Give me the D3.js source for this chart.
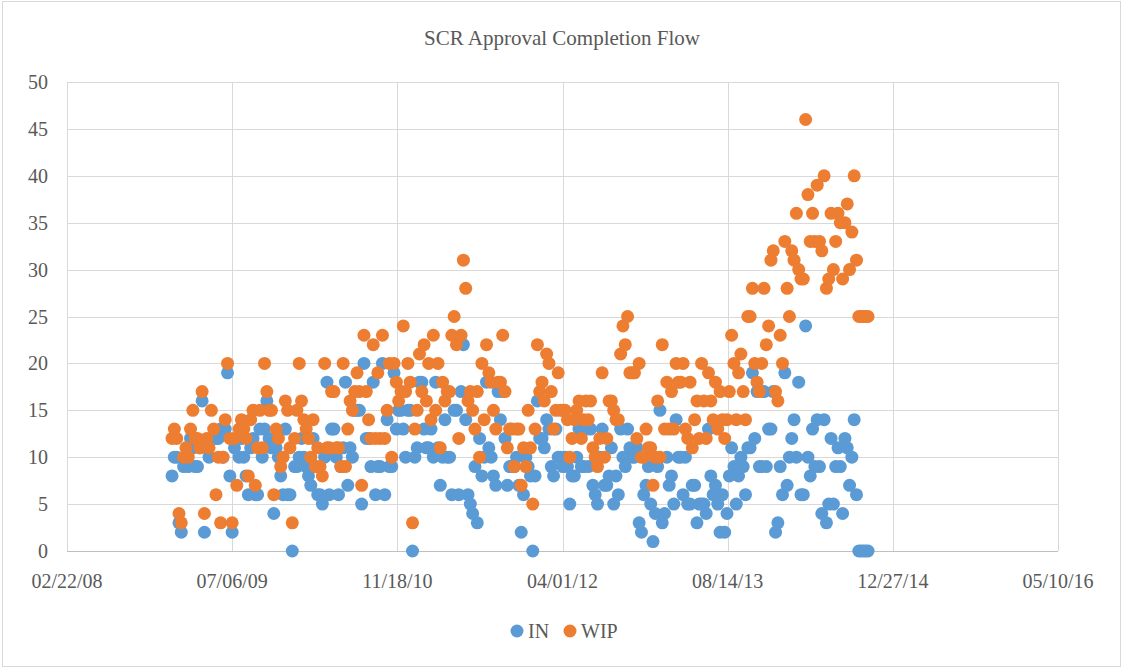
<!DOCTYPE html>
<html>
<head>
<meta charset="utf-8">
<script src="https://cdnjs.cloudflare.com/ajax/libs/d3/7.8.5/d3.min.js"></script>
<style>
  body { margin: 0; background: #fff; }
</style>
</head>
<body>
<script>
// weekly samples, first week starting 2009-01-05
const firstWeek = new Date(2009, 0, 5);

const inValues = [
  8,10,10,3,2,9,10,9,12,11,   9,9,11,16,2,11,10,12,12,12,
  12,13,10,13,19,8,2,11,12,10, 12,10,8,6,11,12,6,6,13,10,
  13,16,12,11,4,11,10,8,6,13, 6,6,0,9,9,10,12,10,9,8,
  7,12,9,6,6,5,10,18,6,13,    13,10,6,9,11,18,7,11,10,15,
  15,15,5,20,12,12,9,18,6,9,  9,20,6,14,9,9,19,13,15,15,
  13,10,15,15,0,10,11,18,18,13, 11,11,13,10,18,11,7,10,14,10,
  10,6,15,15,6,17,22,14,6,5,  4,9,3,12,8,10,18,11,10,8,
  7,17,14,17,12,7,9,9,9,10,   7,2,6,10,9,8,0,8,16,12,
  12,11,14,13,9,8,13,10,10,9, 10,9,5,8,8,10,13,9,9,13,
  9,13,7,6,5,10,13,7,7,8,     11,5,8,6,13,10,9,13,11,10,
  10,11,3,2,6,7,9,5,1,4,      9,15,3,4,10,7,8,5,14,10,
  10,6,10,5,5,7,7,3,5,5,      5,4,13,8,6,7,5,2,6,2,
  4,8,11,9,5,8,10,9,6,11,     11,19,12,17,9,9,17,9,13,13,
  17,2,3,9,6,19,7,10,12,14,   10,18,6,6,24,10,8,13,9,14,
  9,4,14,3,5,12,5,9,11,9,     4,12,11,7,10,14,6,0,0,0,0,0
];

const wipValues = [
  12,13,12,4,3,10,11,10,13,15, 12,12,11,17,4,12,11,15,13,6,
  10,3,10,14,20,12,3,12,7,13,  14,13,12,8,14,15,7,11,15,11,
  20,17,15,15,6,13,12,9,10,16, 15,11,3,12,15,20,16,14,13,12,
  10,14,9,11,9,8,20,11,11,17,  17,11,11,9,20,9,13,16,15,17,
  19,17,7,23,17,14,12,22,12,19, 12,23,12,15,20,10,20,18,16,17,
  24,17,20,18,3,13,15,21,17,22, 16,20,14,23,15,20,11,18,16,17,
  17,23,25,22,12,23,31,28,16,17, 15,13,17,10,20,14,22,19,18,15,
  13,18,18,23,17,11,13,13,9,13, 13,7,11,9,15,11,5,13,22,17,
  18,16,21,20,17,13,15,19,15,15, 15,14,10,12,14,15,16,12,14,16,
  14,16,11,10,9,12,19,10,12,16, 16,15,14,14,21,24,22,25,19,19,
  19,12,20,10,10,13,11,11,7,10, 16,10,22,13,18,13,17,13,20,18,
  18,20,13,12,18,11,14,16,12,20, 16,12,19,16,14,18,13,17,14,12,
  14,17,23,20,14,19,21,17,14,25, 25,28,20,18,17,20,28,22,24,31,
  32,17,16,23,20,33,28,25,32,31, 36,30,29,29,46,38,33,36,33,39,
  33,32,40,28,29,36,30,33,36,35, 29,35,37,30,34,40,31,25,25,25,25,25
];

const xTickLabels = ["02/22/08", "07/06/09", "11/18/10", "04/01/12", "08/14/13", "12/27/14", "05/10/16"];
const yTicks = [0, 5, 10, 15, 20, 25, 30, 35, 40, 45, 50];
const seriesNames = ["IN", "WIP"];
const seriesColors = ["#5B9BD5", "#ED7D31"];

const width = 1123, height = 668;
const serif = "'Liberation Serif', 'Times New Roman', 'DejaVu Serif', serif";
const parseTick = d3.timeParse("%m/%d/%y");
const xTicks = xTickLabels.map(parseTick);

const svg = d3.select("body").append("svg")
  .attr("width", width)
  .attr("height", height)
  .attr("font-family", serif)
  .style("font-family", serif);

// chart border
svg.append("rect")
  .attr("x", 2.5).attr("y", 1.5)
  .attr("width", 1118).attr("height", 665)
  .attr("fill", "#fff")
  .attr("stroke", "#d9d9d9");

const x = d3.scaleTime()
  .domain([xTicks[0], xTicks[xTicks.length - 1]])
  .range([67, 1058]);

const y = d3.scaleLinear()
  .domain([0, 50])
  .range([551, 82]);

// gridlines
svg.append("g")
  .selectAll("line")
  .data(yTicks.filter(d => d > 0))
  .join("line")
  .attr("x1", x.range()[0]).attr("x2", x.range()[1])
  .attr("y1", d => Math.round(y(d)) + 0.5).attr("y2", d => Math.round(y(d)) + 0.5)
  .attr("stroke", "#d9d9d9");

svg.append("g")
  .selectAll("line")
  .data(xTicks)
  .join("line")
  .attr("x1", d => Math.round(x(d)) + 0.5).attr("x2", d => Math.round(x(d)) + 0.5)
  .attr("y1", y(50)).attr("y2", y(0))
  .attr("stroke", "#d9d9d9");

// axis line
svg.append("line")
  .attr("x1", x.range()[0]).attr("x2", x.range()[1])
  .attr("y1", Math.round(y(0)) + 0.5).attr("y2", Math.round(y(0)) + 0.5)
  .attr("stroke", "#bfbfbf");

// y labels
svg.append("g")
  .selectAll("text")
  .data(yTicks)
  .join("text")
  .attr("x", 48)
  .attr("y", d => y(d))
  .attr("dy", "0.35em")
  .attr("text-anchor", "end")
  .attr("font-size", 20)
  .attr("fill", "#595959")
  .text(d => d);

// x labels
const fmt = d3.timeFormat("%m/%d/%y");
svg.append("g")
  .selectAll("text")
  .data(xTicks)
  .join("text")
  .attr("x", d => x(d))
  .attr("y", 588)
  .attr("text-anchor", "middle")
  .attr("font-size", 20)
  .attr("fill", "#595959")
  .text(d => fmt(d));

// title
svg.append("text")
  .attr("x", 562)
  .attr("y", 45)
  .attr("text-anchor", "middle")
  .attr("font-size", 21)
  .attr("fill", "#595959")
  .text("SCR Approval Completion Flow");

// points, WIP drawn over IN
const dateOf = i => d3.timeDay.offset(firstWeek, i * 7);
[inValues, wipValues].forEach((vals, s) => {
  svg.append("g")
    .selectAll("circle")
    .data(vals)
    .join("circle")
    .attr("cx", (d, i) => x(dateOf(i)))
    .attr("cy", d => y(d))
    .attr("r", 6.5)
    .attr("fill", seriesColors[s]);
});

// legend
const legend = svg.append("g");
const legendX = [517, 570];
seriesNames.forEach((name, s) => {
  legend.append("circle")
    .attr("cx", legendX[s]).attr("cy", 631)
    .attr("r", 6.5)
    .attr("fill", seriesColors[s]);
  legend.append("text")
    .attr("x", legendX[s] + 11)
    .attr("y", 638)
    .attr("font-size", 20)
    .attr("fill", "#595959")
    .text(name);
});
</script>
</body>
</html>
